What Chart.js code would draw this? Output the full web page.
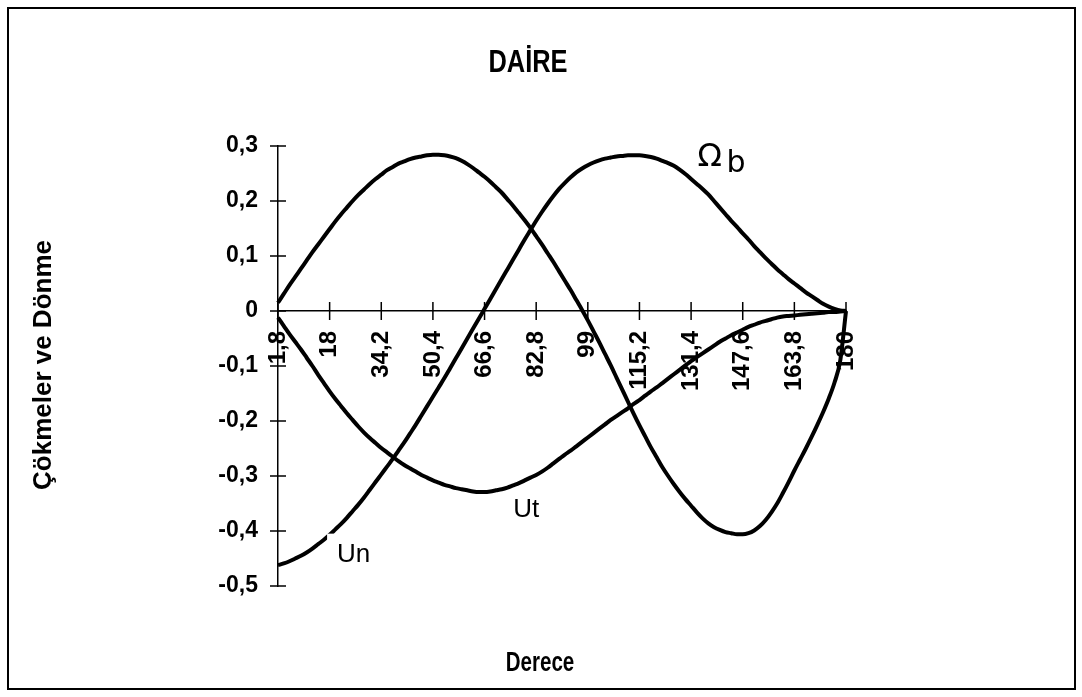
<!DOCTYPE html>
<html>
<head>
<meta charset="utf-8">
<title>DAİRE</title>
<script src="https://cdn.jsdelivr.net/npm/chart.js@4.4.1/dist/chart.umd.min.js"></script>
<style>
  html, body { margin: 0; padding: 0; background: #fff; }
  canvas { display: block; }
</style>
</head>
<body>
<canvas id="daire" width="1082" height="697"></canvas>
<script>
// açı (derece), 1,8 aralıklarla
const degrees = [
  1.8, 3.6, 5.4, 7.2, 9, 10.8, 12.6, 14.4, 16.2, 18,
  19.8, 21.6, 23.4, 25.2, 27, 28.8, 30.6, 32.4, 34.2, 36,
  37.8, 39.6, 41.4, 43.2, 45, 46.8, 48.6, 50.4, 52.2, 54,
  55.8, 57.6, 59.4, 61.2, 63, 64.8, 66.6, 68.4, 70.2, 72,
  73.8, 75.6, 77.4, 79.2, 81, 82.8, 84.6, 86.4, 88.2, 90,
  91.8, 93.6, 95.4, 97.2, 99, 100.8, 102.6, 104.4, 106.2, 108,
  109.8, 111.6, 113.4, 115.2, 117, 118.8, 120.6, 122.4, 124.2, 126,
  127.8, 129.6, 131.4, 133.2, 135, 136.8, 138.6, 140.4, 142.2, 144,
  145.8, 147.6, 149.4, 151.2, 153, 154.8, 156.6, 158.4, 160.2, 162,
  163.8, 165.6, 167.4, 169.2, 171, 172.8, 174.6, 176.4, 178.2, 180
];

// dönme
const omegaB = [
  0.015, 0.031, 0.047, 0.062, 0.077, 0.092, 0.107, 0.121, 0.135, 0.149,
  0.163, 0.176, 0.188, 0.200, 0.211, 0.221, 0.231, 0.240, 0.248, 0.256,
  0.262, 0.268, 0.272, 0.276, 0.279, 0.281, 0.283, 0.284, 0.284, 0.283,
  0.281, 0.278, 0.273, 0.267, 0.260, 0.252, 0.244, 0.235, 0.225, 0.215,
  0.203, 0.191, 0.178, 0.165, 0.151, 0.136, 0.121, 0.105, 0.089, 0.072,
  0.055, 0.038, 0.020, 0.002, -0.017, -0.037, -0.057, -0.078, -0.099, -0.121,
  -0.143, -0.165, -0.187, -0.208, -0.228, -0.248, -0.266, -0.284, -0.300, -0.315,
  -0.329, -0.342, -0.354, -0.366, -0.377, -0.386, -0.393, -0.398, -0.402, -0.404,
  -0.406, -0.406, -0.404, -0.399, -0.391, -0.380, -0.366, -0.350, -0.331, -0.311,
  -0.290, -0.270, -0.250, -0.229, -0.207, -0.184, -0.159, -0.130, -0.090, 0
];

// normal çökme
const un = [
  -0.462, -0.459, -0.455, -0.450, -0.445, -0.439, -0.432, -0.424, -0.416, -0.407,
  -0.397, -0.387, -0.376, -0.364, -0.352, -0.339, -0.325, -0.311, -0.297, -0.283,
  -0.269, -0.254, -0.239, -0.223, -0.207, -0.190, -0.173, -0.156, -0.139, -0.122,
  -0.104, -0.086, -0.068, -0.050, -0.032, -0.014, 0.004, 0.022, 0.040, 0.058,
  0.076, 0.094, 0.112, 0.130, 0.147, 0.164, 0.180, 0.195, 0.209, 0.222,
  0.233, 0.243, 0.252, 0.259, 0.265, 0.270, 0.274, 0.277, 0.279, 0.281,
  0.282, 0.283, 0.283, 0.283, 0.282, 0.280, 0.277, 0.273, 0.269, 0.264,
  0.257, 0.249, 0.240, 0.231, 0.222, 0.212, 0.200, 0.188, 0.176, 0.164,
  0.153, 0.141, 0.130, 0.118, 0.107, 0.096, 0.086, 0.076, 0.067, 0.058,
  0.050, 0.042, 0.034, 0.027, 0.020, 0.013, 0.008, 0.004, 0.001, 0
];

// teğetsel çökme
const ut = [
  -0.012, -0.027, -0.042, -0.056, -0.070, -0.085, -0.100, -0.116, -0.131, -0.146,
  -0.160, -0.173, -0.186, -0.198, -0.210, -0.221, -0.231, -0.240, -0.249, -0.257,
  -0.265, -0.273, -0.280, -0.286, -0.292, -0.298, -0.303, -0.308, -0.312, -0.316,
  -0.319, -0.322, -0.324, -0.326, -0.328, -0.329, -0.329, -0.328, -0.326, -0.324,
  -0.321, -0.317, -0.313, -0.308, -0.303, -0.298, -0.292, -0.285, -0.277, -0.269,
  -0.261, -0.254, -0.246, -0.238, -0.230, -0.222, -0.214, -0.206, -0.198, -0.191,
  -0.184, -0.177, -0.169, -0.162, -0.154, -0.146, -0.139, -0.131, -0.123, -0.115,
  -0.107, -0.099, -0.091, -0.084, -0.077, -0.070, -0.063, -0.056, -0.050, -0.044,
  -0.039, -0.034, -0.029, -0.025, -0.021, -0.018, -0.015, -0.012, -0.010, -0.009,
  -0.008, -0.007, -0.006, -0.005, -0.004, -0.003, -0.002, -0.002, -0.001, 0
];

const yTicks = [0.3, 0.2, 0.1, 0, -0.1, -0.2, -0.3, -0.4, -0.5];
const labelEvery = 9;

const FONT = '"Liberation Sans", Arial, sans-serif';
const comma = v => String(v).replace('.', ',');

// eğri etiketleri: [kategori indeksi, değer]
const curveNotes = [
  { text: 'Un', at: [10.3, -0.443], box: true },
  { text: 'Ut', at: [41, -0.362] }
];

// dar (sıkışık) yazı
function narrowText(ctx, text, x, y, font, squeeze) {
  ctx.save();
  ctx.font = font;
  ctx.translate(x, y);
  ctx.scale(squeeze, 1);
  ctx.fillText(text, 0, 0);
  ctx.restore();
}

const decorations = {
  id: 'decorations',
  afterDraw(chart) {
    const { ctx, scales: { x, y } } = chart;
    ctx.save();

    // dış çerçeve
    ctx.strokeStyle = '#000';
    ctx.lineWidth = 2;
    ctx.strokeRect(8, 8, 1067, 681);

    // eksen çentikleri (her iki yöne)
    ctx.lineWidth = 1.5;
    const y0 = y.getPixelForValue(0);
    ctx.beginPath();
    for (let i = 0; i < degrees.length; i += labelEvery) {
      const px = x.getPixelForValue(i);
      ctx.moveTo(px, y0 - 9);
      ctx.lineTo(px, y0 + 9);
    }
    yTicks.forEach(v => {
      const py = y.getPixelForValue(v);
      ctx.moveTo(x.left - 8, py);
      ctx.lineTo(x.left + 8, py);
    });
    ctx.stroke();

    ctx.fillStyle = '#000';
    ctx.textAlign = 'center';
    ctx.textBaseline = 'alphabetic';

    // başlık ve x ekseni başlığı
    narrowText(ctx, 'DAİRE', 528, 72, 'bold 31px ' + FONT, 0.82);
    narrowText(ctx, 'Derece', 540, 671, 'bold 27px ' + FONT, 0.76);

    // y ekseni başlığı
    ctx.save();
    ctx.translate(51, 365);
    ctx.rotate(-Math.PI / 2);
    ctx.font = 'bold 26px ' + FONT;
    ctx.fillText('Çökmeler ve Dönme', 0, 0);
    ctx.restore();

    // eğri etiketleri
    ctx.textAlign = 'left';
    ctx.textBaseline = 'middle';
    ctx.font = '26px ' + FONT;
    curveNotes.forEach(n => {
      const px = x.getPixelForValue(n.at[0]);
      const py = y.getPixelForValue(n.at[1]);
      if (n.box) {
        const w = ctx.measureText(n.text).width;
        ctx.fillStyle = '#fff';
        ctx.fillRect(px - 10, py - 21, w + 14, 38);
        ctx.fillStyle = '#000';
      }
      ctx.fillText(n.text, px, py);
    });

    // elle yazılmış dönme işareti
    const ox = x.getPixelForValue(73.1);
    const oy = y.getPixelForValue(0.279);
    ctx.font = '32px "DejaVu Sans", sans-serif';
    ctx.fillText('Ω', ox, oy);
    ctx.font = '30px "DejaVu Sans", sans-serif';
    ctx.fillText('b', ox + 29, oy + 7);

    ctx.restore();
  }
};

const line = (label, data) => ({
  label,
  data,
  borderColor: '#000',
  borderWidth: 4,
  pointRadius: 0,
  fill: false,
  cubicInterpolationMode: 'monotone'
});

new Chart(document.getElementById('daire'), {
  type: 'line',
  data: {
    labels: degrees,
    datasets: [
      line('Ωb', omegaB),
      line('Un', un),
      line('Ut', ut)
    ]
  },
  options: {
    responsive: false,
    animation: false,
    events: [],
    layout: { padding: { left: 10, top: 146, right: 236, bottom: 111 } },
    plugins: {
      legend: { display: false },
      tooltip: { enabled: false }
    },
    scales: {
      x: {
        type: 'category',
        position: { y: 0 },
        offset: false,
        border: { color: '#000', width: 1.5 },
        grid: { drawOnChartArea: false, color: 'rgba(0,0,0,0)', tickLength: 8 },
        ticks: {
          autoSkip: false,
          minRotation: 90,
          maxRotation: 90,
          padding: 12,
          color: '#000',
          font: { family: FONT, weight: 'bold', size: 24 },
          callback: (v, i) => (i % labelEvery === 0 ? comma(degrees[i]) : '')
        }
      },
      y: {
        min: -0.5,
        max: 0.3,
        border: { color: '#000', width: 1.5 },
        grid: { drawOnChartArea: false, color: 'rgba(0,0,0,0)', tickLength: 8 },
        afterFit: s => { s.width = 268; },
        ticks: {
          stepSize: 0.1,
          padding: 12,
          color: '#000',
          font: { family: FONT, weight: 'bold', size: 23 },
          callback: v => comma(Math.round(v * 10) / 10)
        }
      }
    }
  },
  plugins: [decorations]
});
</script>
</body>
</html>
